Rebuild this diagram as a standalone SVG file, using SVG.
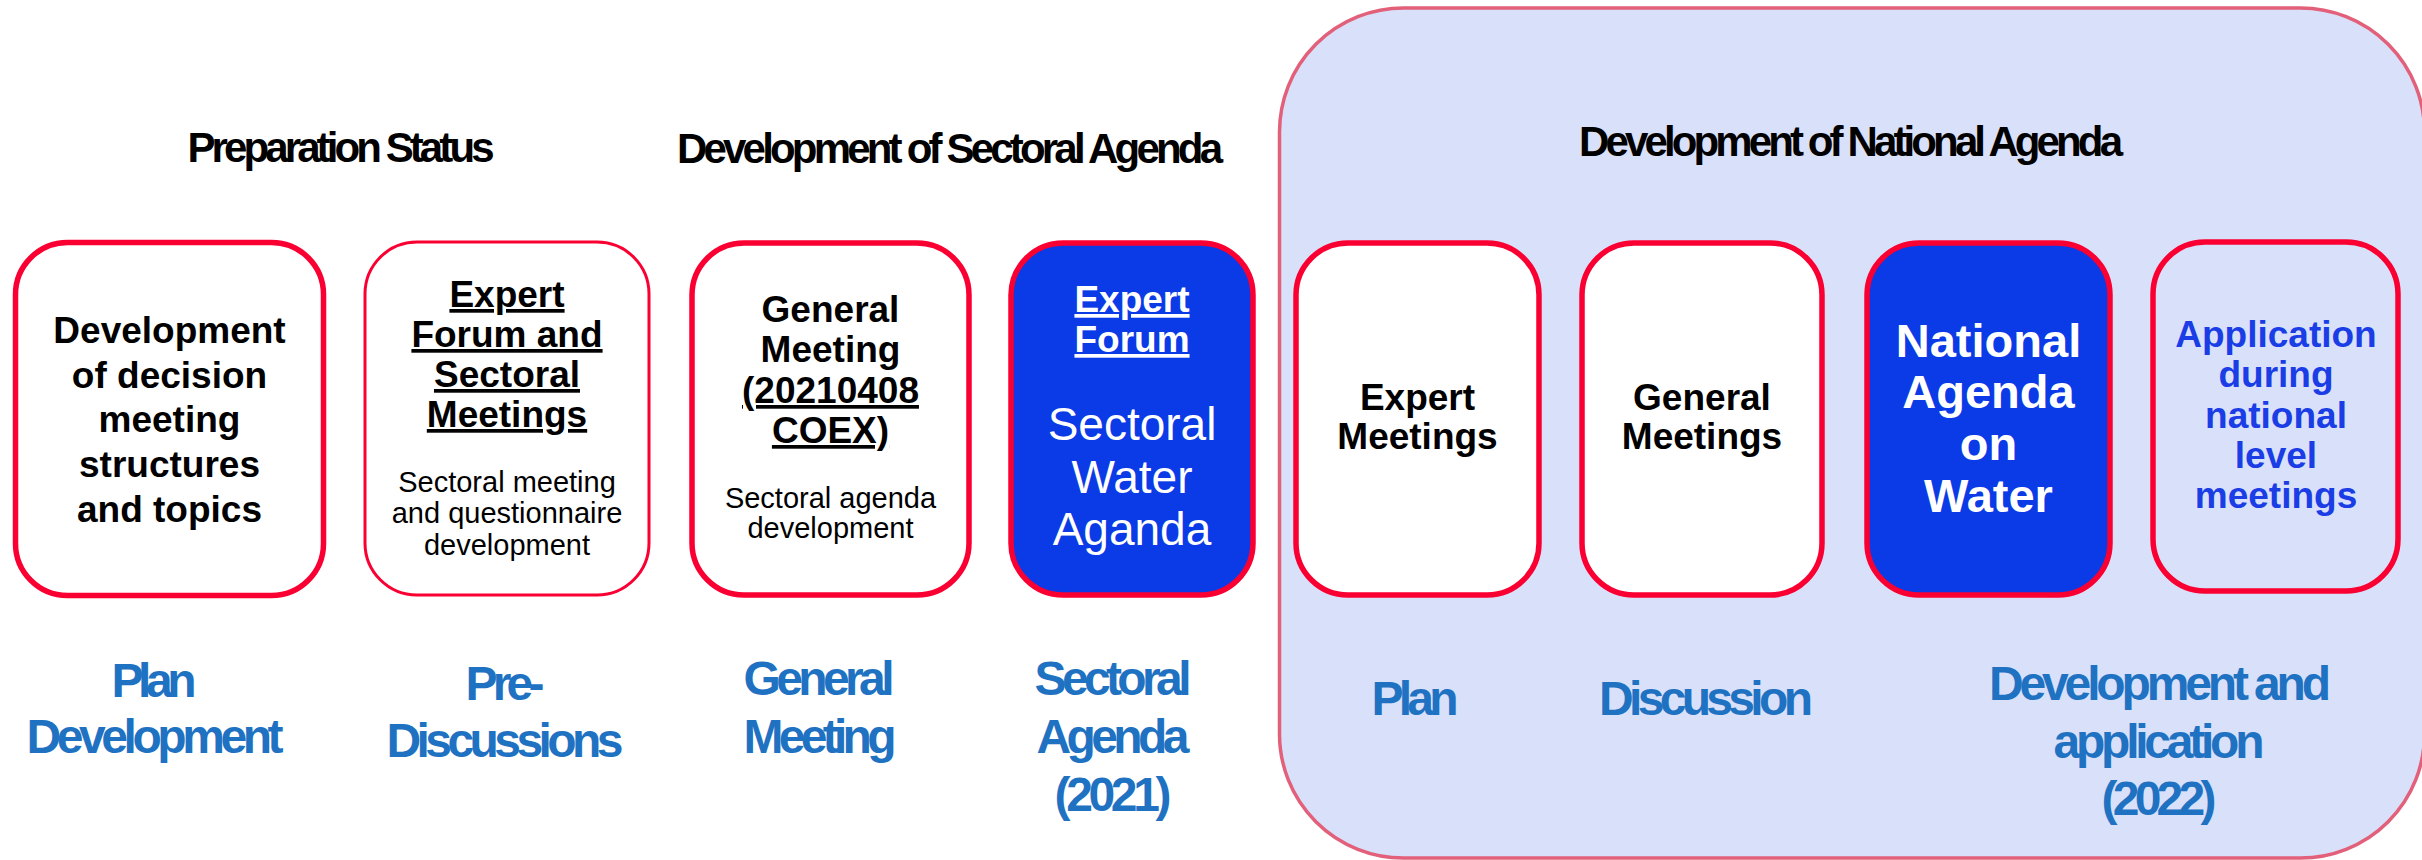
<svg xmlns="http://www.w3.org/2000/svg" width="2422" height="860" viewBox="0 0 2422 860">
<style>
text{font-family:"Liberation Sans",Arial,sans-serif;text-anchor:middle}
.box{fill:#ffffff;stroke:#fa0032;stroke-width:5.5}
.thin{stroke-width:3}
.blue{fill:#0b3be6}
.pale{fill:#d9e1fa}
.b{font-weight:bold;font-size:37px;fill:#000}
.big{font-size:47px}
.reg46{font-size:46px}
.u{text-decoration:underline}
.sub{font-size:29px;fill:#000}
.title{font-weight:bold;font-size:42px;fill:#000}
.lab{font-weight:bold;font-size:48px;fill:#1f72c2}
.w{fill:#ffffff}
.nb{fill:#1a3de6}
</style>
<rect x="0" y="0" width="2422" height="860" fill="#ffffff"/>
<g id="national-panel">
<rect x="1279.5" y="8" width="1145" height="850" rx="124" ry="124" fill="#d9e1fa" stroke="#e2607a" stroke-width="3.5"/>
</g>
<g id="titles">
<text class="title" x="341" y="162" textLength="307" lengthAdjust="spacing">Preparation Status</text>
<text class="title" x="950" y="163" textLength="546" lengthAdjust="spacing">Development of Sectoral Agenda</text>
<text class="title" x="1851" y="156" textLength="544" lengthAdjust="spacing">Development of National Agenda</text>
</g>
<g id="connectors"></g>
<g id="node-decision">
<rect class="box" x="15.5" y="242.5" width="308" height="353" rx="52"/>
<text class="b" x="169.5" y="343">Development</text>
<text class="b" x="169.5" y="388">of decision</text>
<text class="b" x="169.5" y="432">meeting</text>
<text class="b" x="169.5" y="477">structures</text>
<text class="b" x="169.5" y="522">and topics</text>
</g>
<g id="node-expert-forum-sectoral">
<rect class="box thin" x="365" y="242" width="284" height="353" rx="52"/>
<text class="b u" x="507" y="307">Expert</text>
<text class="b u" x="507" y="347">Forum and</text>
<text class="b u" x="507" y="387">Sectoral</text>
<text class="b u" x="507" y="427">Meetings</text>
<text class="sub" x="507" y="492">Sectoral meeting</text>
<text class="sub" x="507" y="523">and questionnaire</text>
<text class="sub" x="507" y="555">development</text>
</g>
<g id="node-general-meeting">
<rect class="box" x="692" y="243" width="277" height="352" rx="52"/>
<text class="b" x="830.5" y="322">General</text>
<text class="b" x="830.5" y="362">Meeting</text>
<text class="b u" x="830.5" y="403">(20210408</text>
<text class="b u" x="830.5" y="443">COEX)</text>
<text class="sub" x="830.5" y="508">Sectoral agenda</text>
<text class="sub" x="830.5" y="538">development</text>
</g>
<g id="node-sectoral-water-agenda">
<rect class="box blue" x="1011" y="243" width="242" height="352" rx="52"/>
<text class="b u w" x="1132" y="312">Expert</text>
<text class="b u w" x="1132" y="352">Forum</text>
<text class="w reg46" x="1132" y="440">Sectoral</text>
<text class="w reg46" x="1132" y="493">Water</text>
<text class="w reg46" x="1132" y="545">Aganda</text>
</g>
<g id="node-expert-meetings">
<rect class="box" x="1296" y="243" width="243" height="352" rx="52"/>
<text class="b" x="1417.5" y="410">Expert</text>
<text class="b" x="1417.5" y="449">Meetings</text>
</g>
<g id="node-general-meetings">
<rect class="box" x="1582" y="243" width="240" height="352" rx="52"/>
<text class="b" x="1702" y="410">General</text>
<text class="b" x="1702" y="449">Meetings</text>
</g>
<g id="node-national-agenda">
<rect class="box blue" x="1867" y="243" width="243" height="352" rx="52"/>
<text class="b w big" x="1988.5" y="357">National</text>
<text class="b w big" x="1988.5" y="408">Agenda</text>
<text class="b w big" x="1988.5" y="460">on</text>
<text class="b w big" x="1988.5" y="512">Water</text>
</g>
<g id="node-application">
<rect class="box pale" x="2153" y="242" width="245" height="349" rx="52"/>
<text class="b nb" x="2276" y="347">Application</text>
<text class="b nb" x="2276" y="387">during</text>
<text class="b nb" x="2276" y="428">national</text>
<text class="b nb" x="2276" y="468">level</text>
<text class="b nb" x="2276" y="508">meetings</text>
</g>
<g id="stage-labels">
<text class="lab" x="154" y="697" textLength="85" lengthAdjust="spacing">Plan</text>
<text class="lab" x="155" y="753" textLength="257" lengthAdjust="spacing">Development</text>
<text class="lab" x="505" y="700" textLength="79" lengthAdjust="spacing">Pre-</text>
<text class="lab" x="505" y="757" textLength="237" lengthAdjust="spacing">Discussions</text>
<text class="lab" x="819" y="695" textLength="151" lengthAdjust="spacing">General</text>
<text class="lab" x="820" y="753" textLength="153" lengthAdjust="spacing">Meeting</text>
<text class="lab" x="1113" y="695" textLength="157" lengthAdjust="spacing">Sectoral</text>
<text class="lab" x="1113" y="753" textLength="153" lengthAdjust="spacing">Agenda</text>
<text class="lab" x="1113" y="811" textLength="117" lengthAdjust="spacing">(2021)</text>
<text class="lab" x="1415" y="715" textLength="87" lengthAdjust="spacing">Plan</text>
<text class="lab" x="1706" y="715" textLength="214" lengthAdjust="spacing">Discussion</text>
<text class="lab" x="2160" y="700" textLength="342" lengthAdjust="spacing">Development and</text>
<text class="lab" x="2159" y="758" textLength="211" lengthAdjust="spacing">application</text>
<text class="lab" x="2159" y="815" textLength="115" lengthAdjust="spacing">(2022)</text>
</g>
</svg>
